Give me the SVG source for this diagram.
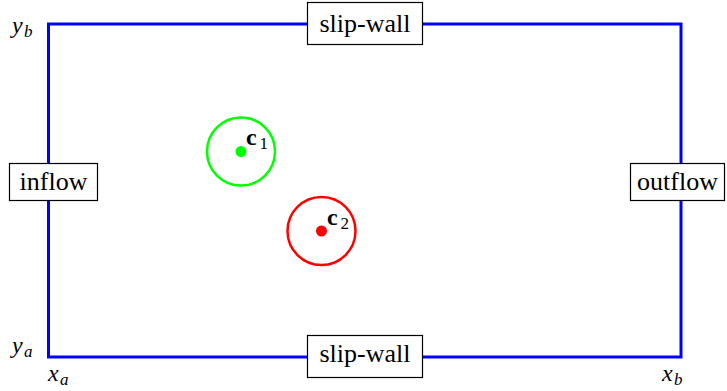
<svg xmlns="http://www.w3.org/2000/svg" width="727" height="391" viewBox="0 0 727 391">
<style>
.wall{fill:none;stroke:#0000ff;stroke-width:3;stroke-linejoin:miter}
.box{fill:#ffffff;stroke:#000000;stroke-width:1.2}
.lbl{font-size:26px;fill:#000;text-anchor:middle}
.m{font-style:italic;font-size:24px;fill:#000}
.sub{font-style:italic;font-size:17px;fill:#000}
.c{font-weight:bold;font-size:24px;fill:#000}
.cs{font-size:17px;fill:#000}
</style>
<rect width="727" height="391" fill="#ffffff"/>
<g id="connectors">
<path class="wall" d="M48.5,24 H681 V357 H48.5 Z"/>
</g>
<g font-family="'Liberation Serif', 'Times New Roman', Times, Tinos, 'Noto Serif', 'DejaVu Serif', FreeSerif, serif">
<g id="slipwall-top">
<rect class="box" x="307.5" y="2.5" width="115" height="42"/>
<text class="lbl" x="365" y="32">slip-wall</text>
</g>
<g id="slipwall-bottom">
<rect class="box" x="307.5" y="335.5" width="115" height="42"/>
<text class="lbl" x="365" y="362">slip-wall</text>
</g>
<g id="inflow">
<rect class="box" x="9.5" y="163.5" width="88" height="37"/>
<text class="lbl" x="53.5" y="190">inflow</text>
</g>
<g id="outflow">
<rect class="box" x="630.5" y="163.5" width="94" height="37"/>
<text class="lbl" x="677.5" y="190">outflow</text>
</g>
<g id="circle1">
<circle cx="241" cy="151.5" r="34" fill="none" stroke="#00ff00" stroke-width="2.5"/>
<circle cx="241" cy="151.5" r="5.5" fill="#00ff00"/>
<text class="c" x="246" y="145">c</text><text class="cs" x="259.5" y="149">1</text>
</g>
<g id="circle2">
<circle cx="321.5" cy="231" r="34" fill="none" stroke="#ff0000" stroke-width="2.5"/>
<circle cx="321.5" cy="231" r="5.5" fill="#ff0000"/>
<text class="c" x="327" y="225">c</text><text class="cs" x="340.5" y="229">2</text>
</g>
<g id="axis-labels">
<text class="m" x="12" y="33">y</text><text class="sub" x="24" y="37">b</text>
<text class="m" x="12" y="353">y</text><text class="sub" x="24" y="357">a</text>
<text class="m" x="48" y="381">x</text><text class="sub" x="60" y="385">a</text>
<text class="m" x="662" y="381">x</text><text class="sub" x="674" y="385">b</text>
</g>
</g>
</svg>
